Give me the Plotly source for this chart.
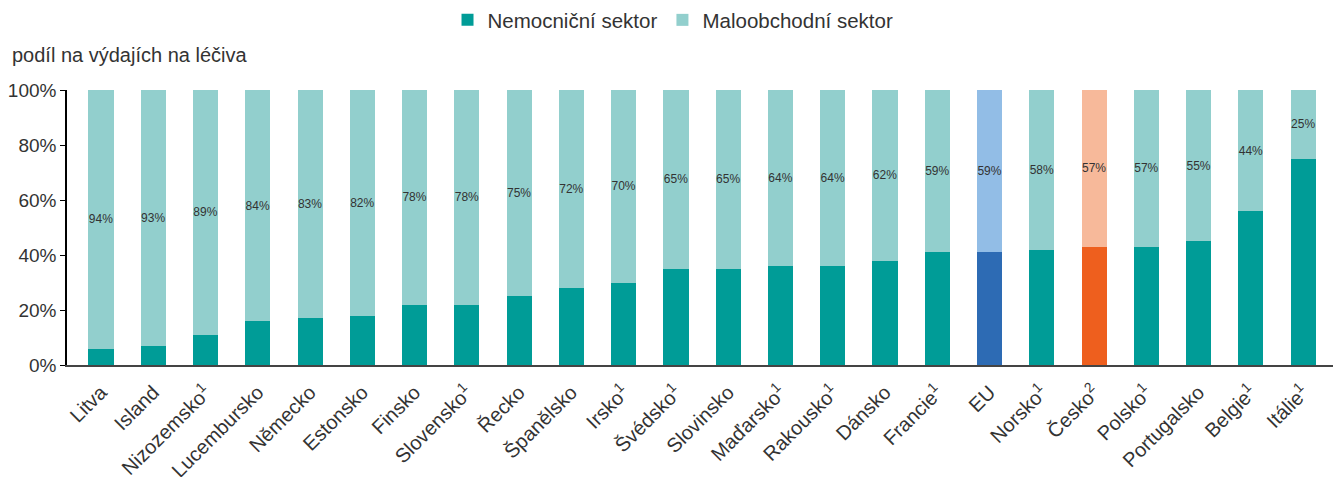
import plotly.graph_objects as go

categories = ["Litva", "Island", "Nizozemsko<sup>1</sup>", "Lucembursko", "Německo", "Estonsko",
              "Finsko", "Slovensko<sup>1</sup>", "Řecko", "Španělsko", "Irsko<sup>1</sup>",
              "Švédsko<sup>1</sup>", "Slovinsko", "Maďarsko<sup>1</sup>", "Rakousko<sup>1</sup>",
              "Dánsko", "Francie<sup>1</sup>", "EU", "Norsko<sup>1</sup>", "Česko<sup>2</sup>",
              "Polsko<sup>1</sup>", "Portugalsko", "Belgie<sup>1</sup>", "Itálie<sup>1</sup>"]
hospital = [6, 7, 11, 16, 17, 18, 22, 22, 25, 28, 30, 35, 35, 36, 36, 38, 41, 41, 42, 43, 43, 45, 56, 75]
retail = [94, 93, 89, 84, 83, 82, 78, 78, 75, 72, 70, 65, 65, 64, 64, 62, 59, 59, 58, 57, 57, 55, 44, 25]
y_ticks = [0, 20, 40, 60, 80, 100]
y_ticklabels = ["0%", "20%", "40%", "60%", "80%", "100%"]

HOSP = "#009C97"
RET = "#92CFCD"
hosp_colors = []
ret_colors = []
for c in categories:
    if c == "EU":
        hosp_colors.append("#2D6BB4"); ret_colors.append("#92BDE6")
    elif c.startswith("Česko"):
        hosp_colors.append("#EE5F1E"); ret_colors.append("#F7B99A")
    else:
        hosp_colors.append(HOSP); ret_colors.append(RET)

FONT = "Liberation Sans"
x = list(range(len(categories)))

fig = go.Figure()
fig.add_trace(go.Bar(x=x, y=hospital, name="Nemocniční sektor",
                     marker=dict(color=hosp_colors, line=dict(width=0)), hoverinfo="skip"))
fig.add_trace(go.Bar(x=x, y=retail, name="Maloobchodní sektor",
                     marker=dict(color=ret_colors, line=dict(width=0)),
                     text=[f"{v}%" for v in retail], textposition="inside",
                     insidetextanchor="middle", textangle=0,
                     textfont=dict(size=12, color="#333333", family=FONT), hoverinfo="skip"))

fig.update_layout(
    barmode="stack", bargap=0.52,
    width=1338, height=477,
    margin=dict(l=67, r=5, t=90, b=112, autoexpand=False),
    paper_bgcolor="white", plot_bgcolor="white",
    font=dict(family=FONT, size=19, color="#333333"),
    uniformtext=dict(minsize=12, mode="show"),
    legend=dict(orientation="h", xref="container", x=0.503, xanchor="center",
                yref="container", y=0.958, yanchor="middle",
                font=dict(size=20.5, color="#333333"), traceorder="normal"),
    xaxis=dict(tickmode="array", tickvals=x, ticktext=categories, tickangle=-45,
               range=[-0.65, 23.57], showline=True, linecolor="#444444", linewidth=1.5,
               ticks="", showgrid=False, automargin=False, ticklabelstandoff=6,
               tickfont=dict(size=20, color="#333333")),
    yaxis=dict(range=[0, 100], tickmode="array", tickvals=y_ticks, ticktext=y_ticklabels,
               showline=True, linecolor="#000000", linewidth=1.5, ticks="outside",
               ticklen=5, tickcolor="#000000", showgrid=False, zeroline=False,
               automargin=False, tickfont=dict(size=19, color="#333333")),
    annotations=[dict(text="podíl na výdajích na léčiva", xref="paper", yref="paper",
                      x=-0.045, y=1.127, xanchor="left", yanchor="middle", showarrow=False,
                      font=dict(size=20, color="#333333"))],
)

fig.write_html("out.html", config={"displayModeBar": False},
               post_script="document.body.style.margin='0px';")
